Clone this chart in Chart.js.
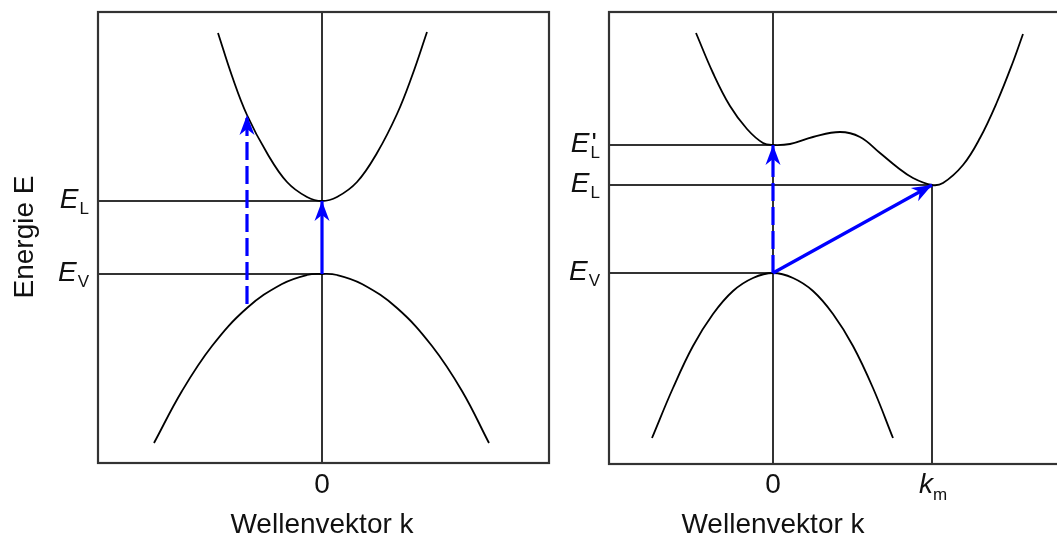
<!DOCTYPE html>
<html>
<head>
<meta charset="utf-8">
<title>Bandstruktur</title>
<script src="https://cdn.jsdelivr.net/npm/chart.js@4/dist/chart.umd.min.js"></script>
<style>
    body { margin: 0; background: #fff; }
    #wrap { position: relative; width: 1057px; height: 537px; overflow: hidden; }
    #wrap canvas { position: absolute; top: 0; }
</style>
</head>
<body>
<div id="wrap">
    <canvas id="directChart" width="560" height="537" style="left:0;width:560px;height:537px"></canvas>
    <canvas id="indirectChart" width="510" height="537" style="left:560px;width:510px;height:537px"></canvas>
</div>
<script>
// band data (k in arbitrary units, E relative to valence band maximum)
const directCondK = [-1.04, -0.9, -0.75, -0.55, -0.35, -0.15, 0, 0.15, 0.35, 0.55, 0.75, 0.9, 1.05];
const directCondE = [2.41, 1.98, 1.59, 1.21, 0.92, 0.77, 0.73, 0.77, 0.92, 1.21, 1.60, 1.98, 2.42];
const directValK = [-1.68, -1.4, -1.1, -0.75, -0.4, -0.15, 0, 0.15, 0.4, 0.75, 1.1, 1.4, 1.67];
const directValE = [-1.69, -1.17, -0.72, -0.34, -0.10, -0.01, 0, -0.01, -0.10, -0.34, -0.72, -1.17, -1.69];

const indirectCondK = [-0.77, -0.6, -0.43, -0.26, -0.1, 0, 0.17, 0.4, 0.67, 0.87, 1.07, 1.24, 1.4, 1.59, 1.7, 1.9, 2.07, 2.24, 2.4, 2.5];
const indirectCondE = [2.40, 2.00, 1.67, 1.44, 1.30, 1.28, 1.29, 1.36, 1.41, 1.36, 1.20, 1.06, 0.95, 0.88, 0.90, 1.08, 1.35, 1.71, 2.11, 2.39];
const indirectValK = [-1.21, -1.0, -0.8, -0.6, -0.4, -0.2, 0, 0.2, 0.4, 0.6, 0.8, 1.0, 1.2];
const indirectValE = [-1.65, -1.15, -0.73, -0.41, -0.18, -0.05, 0, -0.05, -0.18, -0.41, -0.73, -1.15, -1.65];

// energy levels and their labels
const directLevelValues = [0, 0.73];
const directLevelSubs = ['V', 'L'];
const indirectLevelValues = [0, 0.88, 1.28];
const indirectLevelSubs = ['V', 'L', 'L'];
const indirectLevelPrimes = [false, false, true];
const kMin = 1.59;

// transitions: [k start, E start, k end, E end]
const directDashed = [-0.75, -0.30, -0.75, 1.59];
const directSolid = [0, 0, 0, 0.73];
const indirectDashed = [0, 0, 0, 1.28];
const indirectSolid = [0, 0, kMin, 0.88];

const FONT = '"Liberation Sans", Arial, sans-serif';
const INK = '#111';
const LINE = '#333';
const BLUE = '#0000ff';

function pts(ks, es) {
    return ks.map((k, i) => ({ x: k, y: es[i] }));
}

function curve(ks, es) {
    return {
        data: pts(ks, es),
        borderColor: '#000',
        borderWidth: 1.8,
        tension: 0.4,
        pointRadius: 0
    };
}

function rule(data) {
    return { data: data, borderColor: LINE, borderWidth: 2, pointRadius: 0, tension: 0 };
}

function arrow(t, dashed) {
    return {
        data: [{ x: t[0], y: t[1] }, { x: t[2], y: t[3] }],
        borderColor: BLUE,
        borderWidth: 3.2,
        borderDash: dashed ? [18, 6] : [],
        pointRadius: 0,
        tension: 0,
        arrow: true
    };
}

// frame round the plot area
const framePlugin = {
    id: 'frame',
    beforeDatasetsDraw(chart) {
        const a = chart.chartArea, ctx = chart.ctx;
        ctx.save();
        ctx.strokeStyle = LINE;
        ctx.lineWidth = 2.2;
        ctx.strokeRect(a.left, a.top, a.right - a.left, a.bottom - a.top);
        ctx.restore();
    }
};

// filled arrow heads at the end of each transition
const arrowPlugin = {
    id: 'arrowHeads',
    afterDatasetsDraw(chart) {
        const ctx = chart.ctx;
        chart.data.datasets.forEach((ds, i) => {
            if (!ds.arrow) return;
            const p = chart.getDatasetMeta(i).data;
            const a = p[p.length - 2], b = p[p.length - 1];
            const ang = Math.atan2(b.y - a.y, b.x - a.x);
            ctx.save();
            ctx.translate(b.x, b.y);
            ctx.rotate(ang);
            ctx.beginPath();
            ctx.moveTo(0, 0);
            ctx.lineTo(-20, -7.5);
            ctx.lineTo(-14, 0);
            ctx.lineTo(-20, 7.5);
            ctx.closePath();
            ctx.fillStyle = ds.borderColor;
            ctx.fill();
            ctx.restore();
        });
    }
};

// E_x labels on the left, tick labels and titles below
function labelPlugin(levels, subs, primes, xTicks, yTitle) {
    return {
        id: 'bandLabels',
        afterDraw(chart) {
            const ctx = chart.ctx, area = chart.chartArea;
            const xs = chart.scales.x, ys = chart.scales.y;
            ctx.save();
            ctx.fillStyle = INK;
            ctx.textBaseline = 'alphabetic';
            ctx.textAlign = 'left';

            levels.forEach((v, i) => {
                const y = ys.getPixelForValue(v);
                ctx.font = '17px ' + FONT;
                const ws = ctx.measureText(subs[i]).width;
                ctx.font = 'italic 28px ' + FONT;
                const we = ctx.measureText('E').width;
                const x0 = area.left - 9 - ws - we - 1;
                ctx.fillText('E', x0, y + 7);
                if (primes && primes[i]) {
                    ctx.font = '28px ' + FONT;
                    ctx.fillText("'", x0 + we + 2, y + 7);
                }
                ctx.font = '17px ' + FONT;
                ctx.fillText(subs[i], x0 + we + 1, y + 13);
            });

            xTicks.forEach(t => {
                const x = xs.getPixelForValue(t.value);
                if (!t.sub) {
                    ctx.font = '28px ' + FONT;
                    ctx.textAlign = 'center';
                    ctx.fillText(t.text, x, 493);
                    ctx.textAlign = 'left';
                    return;
                }
                ctx.font = 'italic 28px ' + FONT;
                const wk = ctx.measureText(t.text).width;
                ctx.font = '17px ' + FONT;
                const wm = ctx.measureText(t.sub).width;
                const x0 = x - (wk + wm) / 2 + 1;
                ctx.font = 'italic 28px ' + FONT;
                ctx.fillText(t.text, x0, 493);
                ctx.font = '17px ' + FONT;
                ctx.fillText(t.sub, x0 + wk, 500);
            });

            ctx.font = '28px ' + FONT;
            ctx.textAlign = 'center';
            ctx.fillText('Wellenvektor k', xs.getPixelForValue(0), 533);

            if (yTitle) {
                ctx.translate(33, 237);
                ctx.rotate(-Math.PI / 2);
                ctx.fillText(yTitle, 0, 0);
            }
            ctx.restore();
        }
    };
}

function baseOptions(xMin, xMax, yMin, yMax, padding) {
    return {
        responsive: false,
        animation: false,
        events: [],
        layout: { padding: padding },
        plugins: { legend: { display: false }, tooltip: { enabled: false } },
        scales: {
            x: { type: 'linear', min: xMin, max: xMax, display: false },
            y: { type: 'linear', min: yMin, max: yMax, display: false }
        }
    };
}

// direct band gap
const dX = [-2.24, 2.27], dY = [-1.89, 2.62];
const directChart = new Chart(document.getElementById('directChart'), {
    type: 'line',
    data: {
        datasets: [
            arrow(directSolid, false),
            arrow(directDashed, true),
            curve(directCondK, directCondE),
            curve(directValK, directValE),
            rule([{ x: dX[0], y: directLevelValues[1] }, { x: 0, y: directLevelValues[1] }]),
            rule([{ x: dX[0], y: directLevelValues[0] }, { x: 0, y: directLevelValues[0] }]),
            rule([{ x: 0, y: dY[0] }, { x: 0, y: dY[1] }])
        ]
    },
    options: baseOptions(dX[0], dX[1], dY[0], dY[1], { left: 98, top: 12, right: 11, bottom: 74 }),
    plugins: [framePlugin, arrowPlugin,
        labelPlugin(directLevelValues, directLevelSubs, null, [{ value: 0, text: '0' }], 'Energie E')]
});

// indirect band gap
const iX = [-1.64, 2.92], iY = [-1.91, 2.61];
const indirectChart = new Chart(document.getElementById('indirectChart'), {
    type: 'line',
    data: {
        datasets: [
            arrow(indirectSolid, false),
            arrow(indirectDashed, true),
            curve(indirectCondK, indirectCondE),
            curve(indirectValK, indirectValE),
            rule([{ x: iX[0], y: indirectLevelValues[2] }, { x: 0, y: indirectLevelValues[2] }]),
            rule([{ x: iX[0], y: indirectLevelValues[1] }, { x: kMin, y: indirectLevelValues[1] }]),
            rule([{ x: iX[0], y: indirectLevelValues[0] }, { x: 0, y: indirectLevelValues[0] }]),
            rule([{ x: 0, y: iY[0] }, { x: 0, y: iY[1] }]),
            rule([{ x: kMin, y: iY[0] }, { x: kMin, y: indirectLevelValues[1] }])
        ]
    },
    options: baseOptions(iX[0], iX[1], iY[0], iY[1], { left: 49, top: 12, right: 5, bottom: 73 }),
    plugins: [framePlugin, arrowPlugin,
        labelPlugin(indirectLevelValues, indirectLevelSubs, indirectLevelPrimes,
            [{ value: 0, text: '0' }, { value: kMin, text: 'k', sub: 'm' }], null)]
});
</script>
</body>
</html>
